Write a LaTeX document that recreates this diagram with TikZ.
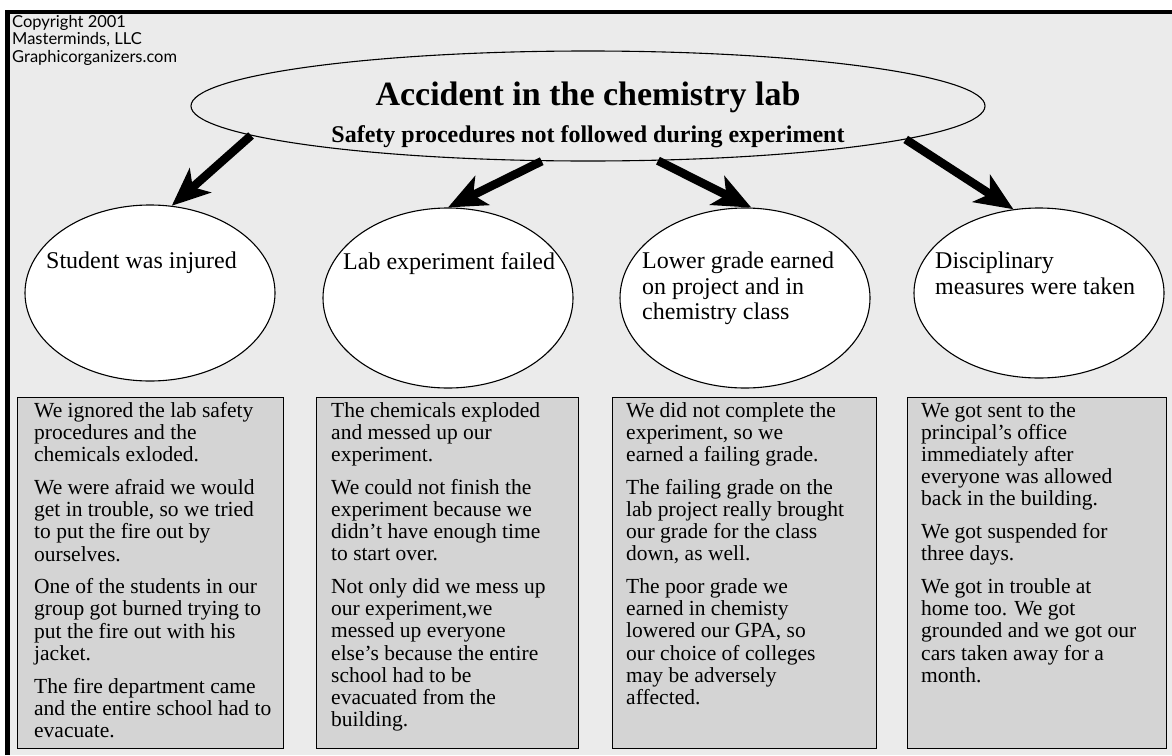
\documentclass[tikz,border=0pt]{standalone}
\usepackage{fontspec}
\setmainfont{Liberation Serif}
\newfontfamily\copyfont{Lato}
\usetikzlibrary{shapes.geometric,arrows.meta}
\definecolor{bg}{HTML}{EBEBEB}
\definecolor{boxgray}{HTML}{D4D4D4}
\begin{document}
\begin{tikzpicture}[x=1pt,y=-1pt,
  bigellipse/.style={ellipse, draw, line width=1.1pt, inner sep=0pt, minimum width=794pt, minimum height=110pt},
  cause/.style={ellipse, draw, fill=white, line width=1.1pt, inner sep=0pt, minimum width=250pt},
  detail/.style={rectangle, draw, fill=boxgray, line width=1.2pt, inner sep=0pt, anchor=north west, minimum height=351pt},
  boxtext/.style={anchor=north west, align=left, inner sep=0pt, font=\fontsize{21.5}{22.2}\selectfont},
  causetext/.style={anchor=north west, align=left, inner sep=0pt, font=\fontsize{24}{25.5}\selectfont},
  fat/.style={line width=8.5pt, -{Stealth[length=38pt,width=32pt,inset=10pt]}},
]
\useasboundingbox (0,0) rectangle (1172,755);
\fill[white] (0,0) rectangle (1172,755);
\fill[bg] (5,10) rectangle (1172,755);
\draw[line width=4.5pt] (7.5,755) -- (7.5,12) -- (1172,12);

\node[anchor=north west, align=left, inner sep=0pt, font=\copyfont\fontsize{16.5}{17.5}\selectfont] (copy) at (12,15)
  {Copyright 2001\\Masterminds, LLC\\Graphicorganizers.com};

\node[bigellipse] (main) at (588,106) {};
\node[font=\bfseries\fontsize{34}{38}\selectfont, inner sep=0pt] (title) at (588,97) {Accident in the chemistry lab};
\node[font=\bfseries\fontsize{24}{26}\selectfont, inner sep=0pt] (sub) at (588,137) {Safety procedures not followed during experiment};

\node[cause, minimum height=176pt] (e1) at (150,293) {};
\node[cause, minimum height=180pt] (e2) at (448,298) {};
\node[cause, minimum height=180pt] (e3) at (745,298) {};
\node[cause, minimum height=170pt] (e4) at (1039,293) {};

\node[causetext] (t1) at (46,252) {Student was injured};
\node[causetext] (t2) at (343,252) {Lab experiment failed};
\node[causetext] (t3) at (642,252) {Lower grade earned\\on project and in\\chemistry class};
\node[causetext] (t4) at (935,252) {Disciplinary\\measures were taken};

\draw[fat] (main.185.5) -- (e1.76);
\draw[fat] (main.230.5) -- (e2.90.6);
\draw[fat] (main.322.3) -- (e3.86.8);
\draw[fat] (main.354.8) -- (e4.107);

\node[detail, minimum width=266pt] (b1) at (17,397) {};
\node[detail, minimum width=262pt] (b2) at (316,397) {};
\node[detail, minimum width=264pt] (b3) at (612,397) {};
\node[detail, minimum width=259pt] (b4) at (907,397) {};

\node[boxtext] (p1) at (34,402) {We ignored the lab safety\\procedures and the\\chemicals exloded.\\[10.5pt]
We were afraid we would\\get in trouble, so we tried\\to put the fire out by\\ourselves.\\[10.5pt]
One of the students in our\\group got burned trying to\\put the fire out with his\\jacket.\\[10.5pt]
The fire department came\\and the entire school had to\\evacuate.};

\node[boxtext] (p2) at (331,402) {The chemicals exploded\\and messed up our\\experiment.\\[10.5pt]
We could not finish the\\experiment because we\\didn’t have enough time\\to start over.\\[10.5pt]
Not only did we mess up\\our experiment,we\\messed up everyone\\else’s because the entire\\school had to be\\evacuated from the\\building.};

\node[boxtext] (p3) at (626,402) {We did not complete the\\experiment, so we\\earned a failing grade.\\[10.5pt]
The failing grade on the\\lab project really brought\\our grade for the class\\down, as well.\\[10.5pt]
The poor grade we\\earned in chemisty\\lowered our GPA, so\\our choice of colleges\\may be adversely\\affected.};

\node[boxtext] (p4) at (921,402) {We got sent to the\\principal’s office\\immediately after\\everyone was allowed\\back in the building.\\[10.5pt]
We got suspended for\\three days.\\[10.5pt]
We got in trouble at\\home too. We got\\grounded and we got our\\cars taken away for a\\month.};
\end{tikzpicture}
\end{document}
